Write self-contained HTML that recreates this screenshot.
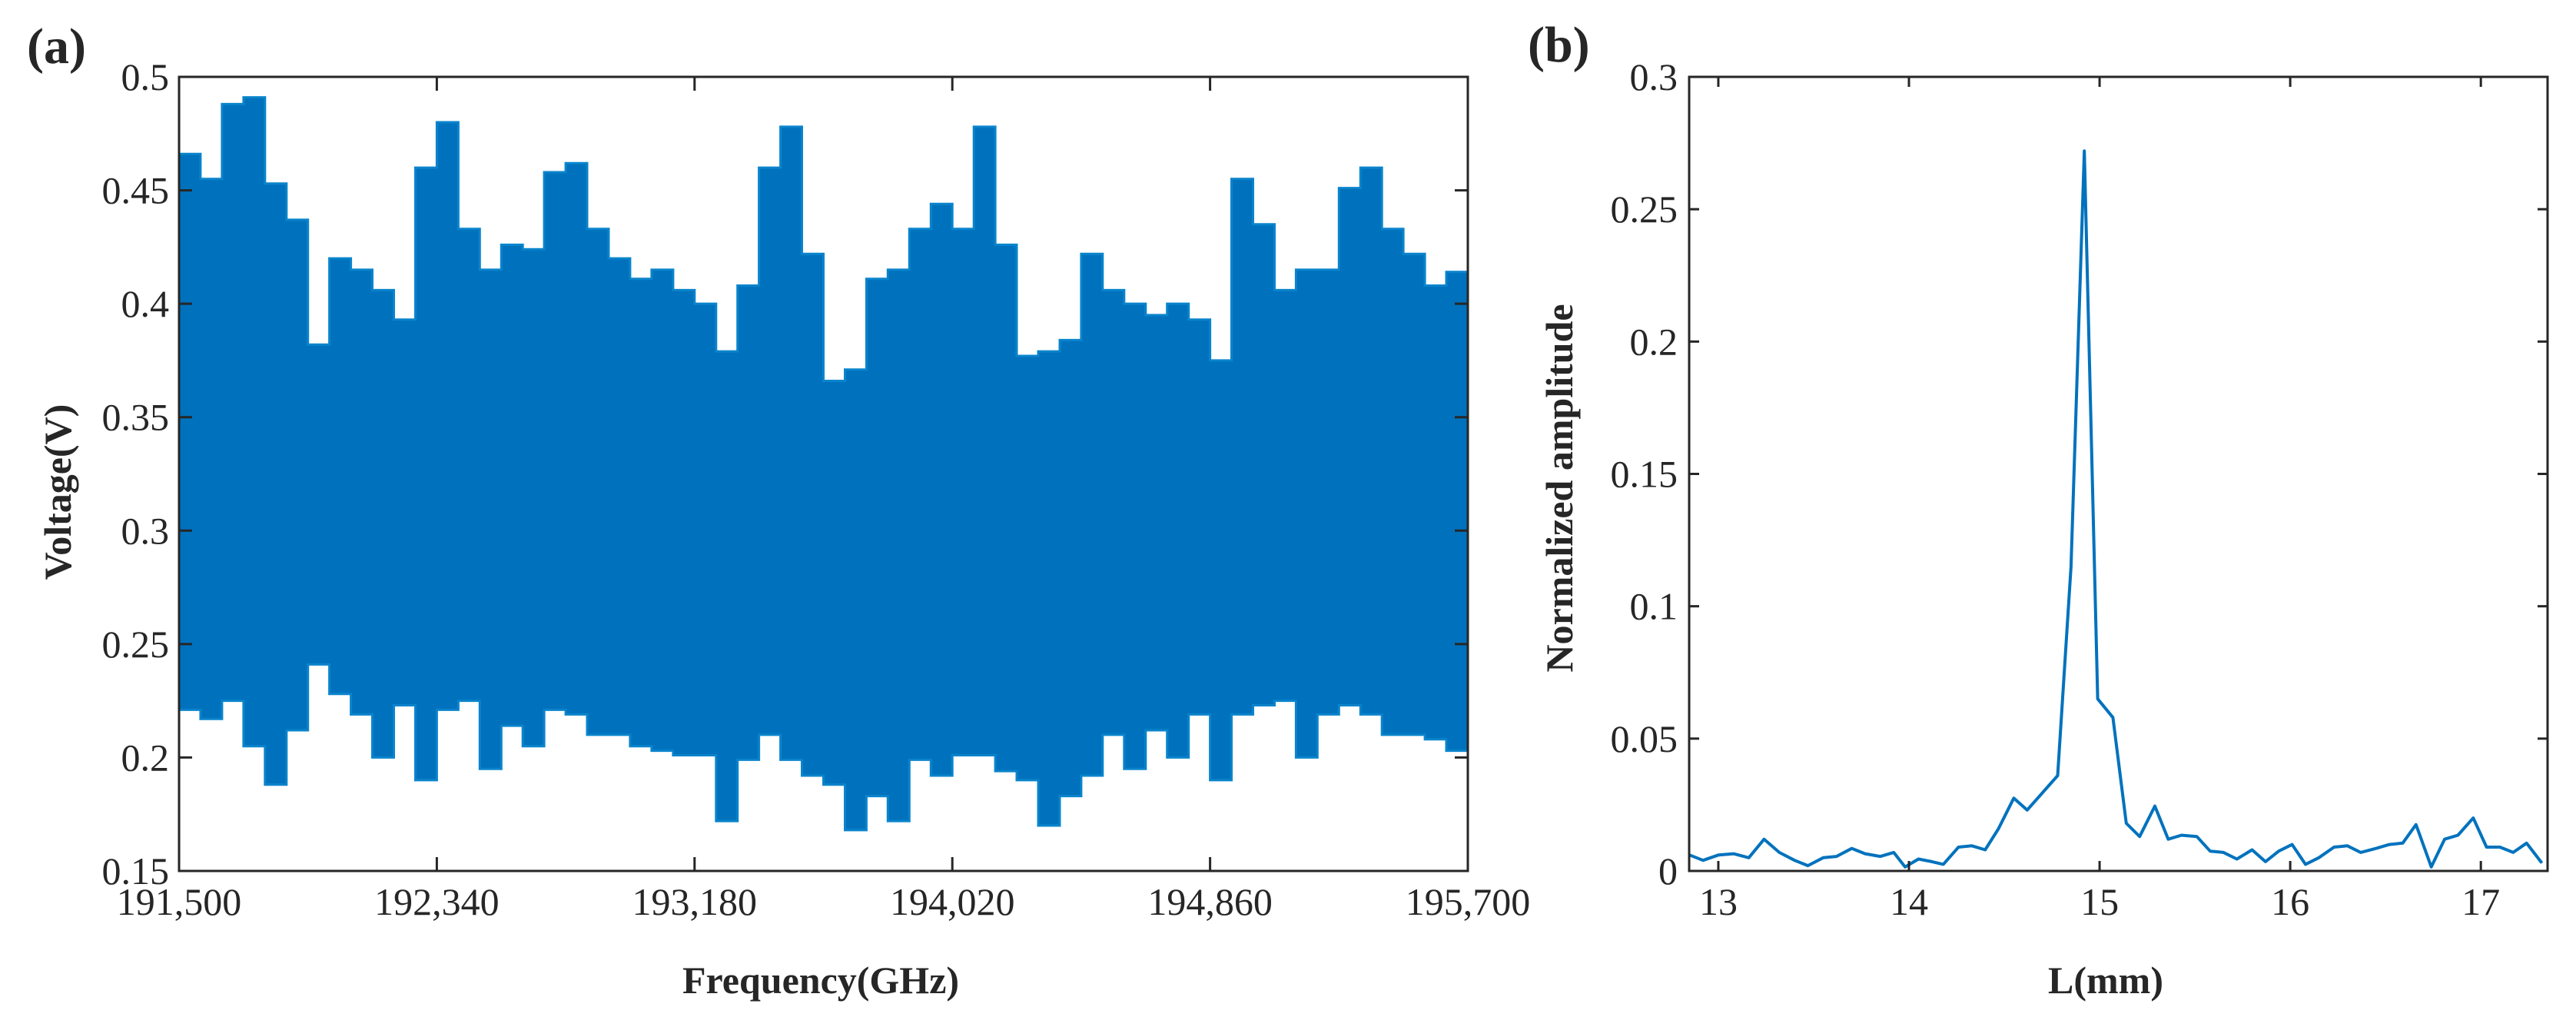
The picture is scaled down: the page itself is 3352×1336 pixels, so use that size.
<!DOCTYPE html>
<html><head><meta charset="utf-8"><style>
html,body{margin:0;padding:0;background:#fff;}
svg{display:block;}
text{font-family:"Liberation Serif",serif;fill:#262626;}
</style></head>
<body>
<svg id="fig" width="3352" height="1336" viewBox="0 0 3352 1336" xmlns="http://www.w3.org/2000/svg">
<text x="35" y="82" font-size="66" font-weight="bold" fill="#000">(a)</text>
<text x="1988" y="80" font-size="66" font-weight="bold" fill="#000">(b)</text>
<g id="ga"></g>
<g id="gb"></g>
<text x="1068" y="1292" font-size="50" font-weight="bold" text-anchor="middle" fill="#000">Frequency(GHz)</text>
<text transform="translate(92,640) rotate(-90)" font-size="50" font-weight="bold" text-anchor="middle" fill="#000">Voltage(V)</text>
<text x="2740" y="1292" font-size="50" font-weight="bold" text-anchor="middle" fill="#000">L(mm)</text>
<text transform="translate(2046,635) rotate(-90)" font-size="50" font-weight="bold" text-anchor="middle" fill="#000">Normalized amplitude</text>
</svg>
<script>
// Panel (a) data: per-bin upper / lower envelope of the voltage trace (60 bins over 191500..195700 GHz)
const aUpper = [0.466,0.455,0.488,0.491,0.453,0.437,0.382,0.420,0.415,0.406,0.393,0.460,0.480,0.433,0.415,0.426,0.424,0.458,0.462,0.433,
                0.420,0.411,0.415,0.406,0.400,0.379,0.408,0.460,0.478,0.422,0.366,0.371,0.411,0.415,0.433,0.444,0.433,0.478,0.426,0.377,
                0.379,0.384,0.422,0.406,0.400,0.395,0.400,0.393,0.375,0.455,0.435,0.406,0.415,0.415,0.451,0.460,0.433,0.422,0.408,0.414];
const aLower = [0.221,0.217,0.225,0.205,0.188,0.212,0.241,0.228,0.219,0.200,0.223,0.190,0.221,0.225,0.195,0.214,0.205,0.221,0.219,0.210,
                0.210,0.205,0.203,0.201,0.201,0.172,0.199,0.210,0.199,0.192,0.188,0.168,0.183,0.172,0.199,0.192,0.201,0.201,0.194,0.190,
                0.170,0.183,0.192,0.210,0.195,0.212,0.200,0.219,0.190,0.219,0.223,0.225,0.200,0.219,0.223,0.219,0.210,0.210,0.208,0.203];
const aXTicks = [191500,192340,193180,194020,194860,195700];
const aXTickLabels = ["191,500","192,340","193,180","194,020","194,860","195,700"];
const aYTicks = [0.15,0.2,0.25,0.3,0.35,0.4,0.45,0.5];
const aYTickLabels = ["0.15","0.2","0.25","0.3","0.35","0.4","0.45","0.5"];

// Panel (b) data
const bL = [12.85,12.92,13.0,13.08,13.16,13.24,13.32,13.40,13.47,13.55,13.62,13.70,13.77,13.85,13.92,13.98,14.05,14.12,14.18,14.26,14.33,14.40,14.47,14.55,14.62,14.70,14.78,14.85,14.92,14.99,15.07,15.14,15.21,15.29,15.36,15.43,15.51,15.58,15.65,15.72,15.80,15.87,15.94,16.01,16.08,16.15,16.23,16.30,16.37,16.45,16.52,16.59,16.66,16.74,16.81,16.88,16.96,17.03,17.10,17.17,17.24,17.32];
const bAmp = [0.006,0.004,0.006,0.0065,0.005,0.012,0.007,0.004,0.002,0.005,0.0055,0.0085,0.0065,0.0055,0.007,0.0015,0.0045,0.0035,0.0025,0.009,0.0095,0.008,0.016,0.0275,0.023,0.0295,0.036,0.115,0.272,0.065,0.058,0.018,0.013,0.0245,0.012,0.0135,0.013,0.0075,0.007,0.0045,0.008,0.0035,0.0075,0.01,0.0025,0.005,0.009,0.0095,0.007,0.0085,0.010,0.0105,0.0175,0.0015,0.012,0.0135,0.020,0.009,0.009,0.007,0.0105,0.003];
const bXTicks = [13,14,15,16,17];
const bXTickLabels = ["13","14","15","16","17"];
const bYTicks = [0,0.05,0.1,0.15,0.2,0.25,0.3];
const bYTickLabels = ["0","0.05","0.1","0.15","0.2","0.25","0.3"];

const NS = "http://www.w3.org/2000/svg";
function mk(parent, tag, attrs){const e=document.createElementNS(NS,tag);for(const k in attrs)e.setAttribute(k,attrs[k]);parent.appendChild(e);return e;}

// ---- Panel a ----
const A = {l:233,r:1910,t:100,b:1133,x0:191500,x1:195700,y0:0.15,y1:0.5};
const ax = v => A.l + (v-A.x0)/(A.x1-A.x0)*(A.r-A.l);
const ay = v => A.b - (v-A.y0)/(A.y1-A.y0)*(A.b-A.t);
const ga = document.getElementById('ga');
{
  const n = aUpper.length, step=(A.x1-A.x0)/n;
  let up="", lo="";
  for(let i=0;i<n;i++){
    const xa=ax(A.x0+i*step), xb=ax(A.x0+(i+1)*step);
    up += (i===0?"M":"L")+xa.toFixed(1)+","+ay(aUpper[i]).toFixed(1)+" L"+xb.toFixed(1)+","+ay(aUpper[i]).toFixed(1)+" ";
  }
  for(let i=n-1;i>=0;i--){
    const xa=ax(A.x0+i*step), xb=ax(A.x0+(i+1)*step);
    lo += "L"+xb.toFixed(1)+","+ay(aLower[i]).toFixed(1)+" L"+xa.toFixed(1)+","+ay(aLower[i]).toFixed(1)+" ";
  }
  const p = mk(ga,'path',{d:up+lo+"Z",fill:"#0072BD",stroke:"#0a84cc","stroke-width":"3"});
  
  
}
{
  const f = mk(ga,'rect',{x:A.l,y:A.t,width:A.r-A.l,height:A.b-A.t,fill:"none",stroke:"#262626","stroke-width":"3"});
  
  
}
aXTicks.forEach((v,i)=>{
  const x=ax(v);
  mk(ga,'line',{x1:x,y1:A.b,x2:x,y2:A.b-18,stroke:"#262626","stroke-width":"3"});
  mk(ga,'line',{x1:x,y1:A.t,x2:x,y2:A.t+18,stroke:"#262626","stroke-width":"3"});
  const t=mk(ga,'text',{x:x,y:1190,"font-size":"50","text-anchor":"middle"});
  t.textContent=aXTickLabels[i];
  
  
});
aYTicks.forEach((v,i)=>{
  const y=ay(v);
  mk(ga,'line',{x1:A.l,y1:y,x2:A.l+17,y2:y,stroke:"#262626","stroke-width":"3"});
  mk(ga,'line',{x1:A.r,y1:y,x2:A.r-17,y2:y,stroke:"#262626","stroke-width":"3"});
  const t=mk(ga,'text',{x:220,y:y+17,"font-size":"50","text-anchor":"end"});
  t.textContent=aYTickLabels[i];
  
  
});

// ---- Panel b ----
const B = {l:2198,r:3315,t:100,b:1133,x0:12.847,x1:17.35,y0:0,y1:0.3};
const bx = v => B.l + (v-B.x0)/(B.x1-B.x0)*(B.r-B.l);
const by = v => B.b - (v-B.y0)/(B.y1-B.y0)*(B.b-B.t);
const gb = document.getElementById('gb');
{
  const pts = bL.map((v,i)=>bx(v).toFixed(1)+","+by(bAmp[i]).toFixed(1)).join(" ");
  const pl = mk(gb,'polyline',{points:pts,fill:"none",stroke:"#0072BD","stroke-width":"4","stroke-linejoin":"round"});
  
  
}
{
  const f = mk(gb,'rect',{x:B.l,y:B.t,width:B.r-B.l,height:B.b-B.t,fill:"none",stroke:"#262626","stroke-width":"3"});
  
  
}
bXTicks.forEach((v,i)=>{
  const x=bx(v);
  mk(gb,'line',{x1:x,y1:B.b,x2:x,y2:B.b-13,stroke:"#262626","stroke-width":"3"});
  mk(gb,'line',{x1:x,y1:B.t,x2:x,y2:B.t+13,stroke:"#262626","stroke-width":"3"});
  const t=mk(gb,'text',{x:x,y:1190,"font-size":"50","text-anchor":"middle"});
  t.textContent=bXTickLabels[i];
  
  
});
bYTicks.forEach((v,i)=>{
  const y=by(v);
  mk(gb,'line',{x1:B.l,y1:y,x2:B.l+13,y2:y,stroke:"#262626","stroke-width":"3"});
  mk(gb,'line',{x1:B.r,y1:y,x2:B.r-13,y2:y,stroke:"#262626","stroke-width":"3"});
  const t=mk(gb,'text',{x:2183,y:y+17,"font-size":"50","text-anchor":"end"});
  t.textContent=bYTickLabels[i];
  
  
});
</script>
</body></html>
